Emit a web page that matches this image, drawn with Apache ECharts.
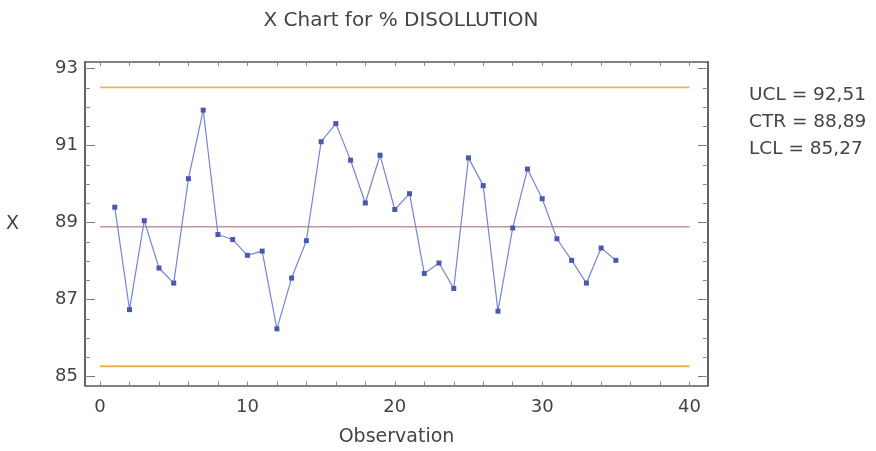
<!DOCTYPE html>
<html>
<head>
<meta charset="utf-8">
<script src="https://cdn.jsdelivr.net/npm/echarts@6/dist/echarts.min.js"></script>
<style>
  html, body { margin: 0; padding: 0; background: #fff; }
  #chart { width: 876px; height: 451px; }
</style>
</head>
<body>
<div id="chart"></div>
<script>
// Sample means of % dissolution, one per observation
const observations = [1,2,3,4,5,6,7,8,9,10,11,12,13,14,15,16,17,18,19,20,21,22,23,24,25,26,27,28,29,30,31,32,33,34,35];
const xValues = [89.40,86.74,89.05,87.82,87.43,90.14,91.92,88.69,88.56,88.15,88.26,86.24,87.56,88.53,91.10,91.57,90.62,89.51,90.75,89.34,89.75,87.68,87.95,87.29,90.68,89.96,86.70,88.86,90.39,89.62,88.58,88.02,87.43,88.34,88.02];

// Control limits
const UCL = 92.51;
const CTR = 88.89;
const LCL = 85.27;
const limitSpan = [0, 40];

const xLabelValues = [0, 10, 20, 30, 40];
const xTickValues = [0,2,4,6,8,10,12,14,16,18,20,22,24,26,28,30,32,34,36,38,40];
const yLabelValues = [85, 87, 89, 91, 93];
const yMinorValues = [85,85.5,86,86.5,87,87.5,88,88.5,89,89.5,90,90.5,91,91.5,92,92.5,93];

const FONT = '"DejaVu Sans", "Liberation Sans", sans-serif';
const AXIS_COLOR = '#5a5a5a';
const TEXT_COLOR = '#444';

const xRange = { min: -1.02, max: 41.25 };
const yRange = { min: 84.77, max: 93.17 };

const fmt = v => v.toFixed(2).replace('.', ',');

const chart = echarts.init(document.getElementById('chart'), null, { renderer: 'canvas' });

function xAxisDef(position, opts) {
  return Object.assign({
    type: 'value', position: position, min: xRange.min, max: xRange.max,
    splitLine: { show: false },
    axisLine: { show: true, onZero: false, lineStyle: { color: AXIS_COLOR, width: 1.5 } },
    axisTick: { show: false },
    axisLabel: { show: false }
  }, opts);
}
function yAxisDef(position, opts) {
  return Object.assign({
    type: 'value', position: position, min: yRange.min, max: yRange.max,
    splitLine: { show: false },
    axisLine: { show: true, onZero: false, lineStyle: { color: AXIS_COLOR, width: 1.5 } },
    axisTick: { show: false },
    axisLabel: { show: false }
  }, opts);
}

const option = {
  backgroundColor: '#fff',
  animation: false,
  title: {
    text: 'X Chart for % DISOLLUTION',
    left: 396, top: 6, textAlign: 'center',
    textStyle: { fontFamily: FONT, fontSize: 20, fontWeight: 'normal', color: TEXT_COLOR }
  },
  grid: { left: 85, top: 62, right: 168, bottom: 65.5, containLabel: false, outerBoundsMode: 'none' },
  xAxis: [
    xAxisDef('bottom', {
      name: 'Observation', nameLocation: 'middle', nameGap: 42,
      nameTextStyle: { fontFamily: FONT, fontSize: 19, color: TEXT_COLOR },
      axisTick: { show: true, inside: true, length: 4, customValues: xTickValues, lineStyle: { color: '#888' } },
      axisLabel: { show: true, customValues: xLabelValues, margin: 13, fontFamily: FONT, fontSize: 18, color: TEXT_COLOR }
    }),
    xAxisDef('top', {
      axisTick: { show: true, inside: true, length: 4, customValues: xTickValues, lineStyle: { color: '#888' } }
    })
  ],
  yAxis: [
    yAxisDef('left', {
      name: 'X', nameLocation: 'middle', nameGap: 66, nameRotate: 0,
      nameTextStyle: { fontFamily: FONT, fontSize: 19, color: TEXT_COLOR },
      axisTick: { show: true, inside: true, length: 10, customValues: yLabelValues, lineStyle: { color: '#777' } },
      axisLabel: { show: true, customValues: yLabelValues, margin: 7, fontFamily: FONT, fontSize: 18, color: TEXT_COLOR }
    }),
    yAxisDef('left', {
      axisTick: { show: true, inside: true, length: 5, customValues: yMinorValues, lineStyle: { color: '#888' } }
    }),
    yAxisDef('right', {
      axisTick: { show: true, inside: true, length: 10, customValues: yLabelValues, lineStyle: { color: '#777' } }
    }),
    yAxisDef('right', {
      axisTick: { show: true, inside: true, length: 5, customValues: yMinorValues, lineStyle: { color: '#888' } }
    })
  ],
  graphic: [
    { type: 'text', left: 749, top: 86, style: { text: 'UCL = ' + fmt(UCL), fontFamily: FONT, fontSize: 18.5, fill: TEXT_COLOR } },
    { type: 'text', left: 749, top: 113, style: { text: 'CTR = ' + fmt(CTR), fontFamily: FONT, fontSize: 18.5, fill: TEXT_COLOR } },
    { type: 'text', left: 749, top: 140, style: { text: 'LCL = ' + fmt(LCL), fontFamily: FONT, fontSize: 18.5, fill: TEXT_COLOR } }
  ],
  series: [
    {
      name: 'UCL', type: 'line', xAxisIndex: 0, yAxisIndex: 0, symbol: 'none',
      data: limitSpan.map(x => [x, UCL]),
      lineStyle: { color: '#f0b445', width: 1.8 }, silent: true
    },
    {
      name: 'LCL', type: 'line', xAxisIndex: 0, yAxisIndex: 0, symbol: 'none',
      data: limitSpan.map(x => [x, LCL]),
      lineStyle: { color: '#f0b445', width: 1.8 }, silent: true
    },
    {
      name: 'CTR', type: 'line', xAxisIndex: 0, yAxisIndex: 0, symbol: 'none',
      data: limitSpan.map(x => [x, CTR]),
      lineStyle: { color: '#a8606e', width: 1 }, silent: true
    },
    {
      name: 'X', type: 'line', xAxisIndex: 0, yAxisIndex: 0,
      data: observations.map((o, i) => [o, xValues[i]]),
      symbol: 'rect', symbolSize: 5,
      lineStyle: { color: '#7585d5', width: 1.2 },
      itemStyle: { color: '#4a58b0' }
    }
  ]
};

chart.setOption(option);
</script>
</body>
</html>
